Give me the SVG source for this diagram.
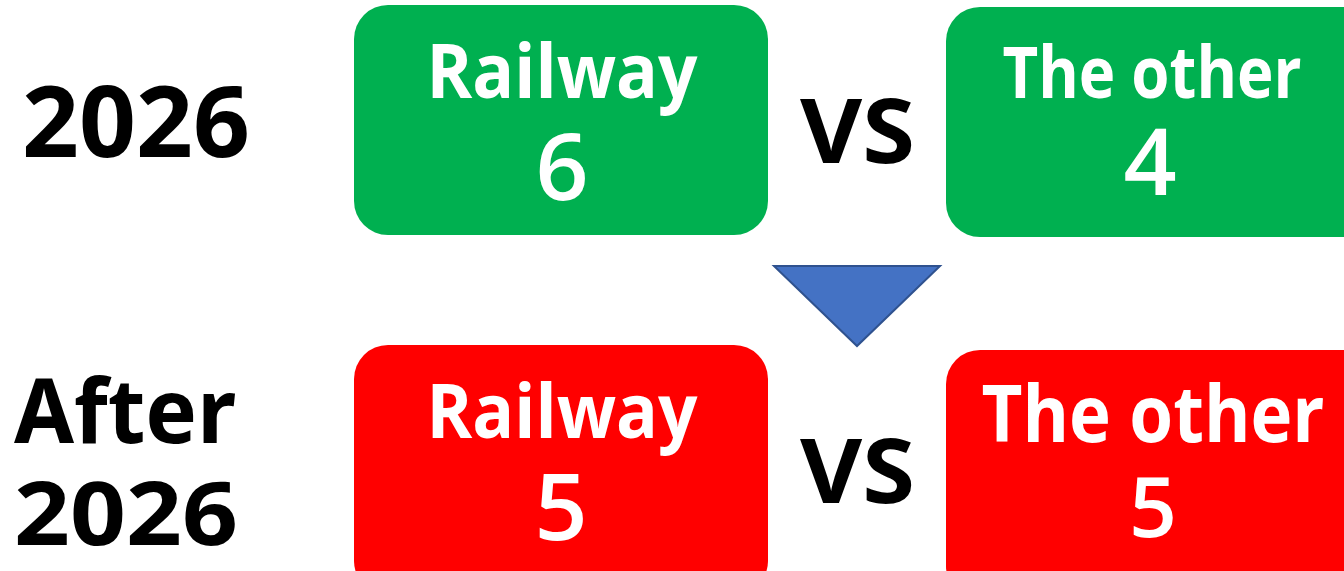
<svg xmlns="http://www.w3.org/2000/svg" width="1344" height="571" viewBox="0 0 1344 571">
  <style>
    .label { font-family: "Noto Sans", "DejaVu Sans", sans-serif; font-weight: 700; fill: #000000; }
    .box-title { font-family: "Open Sans", "Noto Sans", sans-serif; font-weight: 700; fill: #ffffff; text-anchor: middle; }
    .box-num { font-family: "Open Sans", "Noto Sans", sans-serif; font-weight: 600; fill: #ffffff; text-anchor: middle; }
    .green { fill: #00B050; }
    .red { fill: #FF0000; }
  </style>
  <rect width="1344" height="571" fill="#ffffff"/>

  <!-- row labels -->
  <g id="label-2026">
    <text class="label" x="22" y="157" font-size="98" textLength="228" lengthAdjust="spacingAndGlyphs">2026</text>
  </g>
  <g id="label-after-2026">
    <text class="label" x="14" y="443" font-size="90" textLength="222" lengthAdjust="spacingAndGlyphs">After</text>
    <text class="label" x="14" y="545" font-size="88" textLength="224" lengthAdjust="spacingAndGlyphs">2026</text>
  </g>

  <!-- 2026 row -->
  <g id="railway-2026">
    <rect class="green" x="354" y="5" width="414" height="230" rx="34" ry="34"/>
    <text class="box-title" x="562" y="98" font-size="76" textLength="271" lengthAdjust="spacingAndGlyphs">Railway</text>
    <text class="box-num" x="562" y="200" font-size="93">6</text>
  </g>
  <g id="vs-2026">
    <text class="label" x="800" y="163" font-size="90" textLength="115" lengthAdjust="spacingAndGlyphs">VS</text>
  </g>
  <g id="other-2026">
    <rect class="green" x="946" y="7" width="430" height="230" rx="34" ry="34"/>
    <text class="box-title" x="1152" y="98" font-size="71" textLength="299" lengthAdjust="spacingAndGlyphs">The other</text>
    <text class="box-num" x="1150" y="195" font-size="93">4</text>
  </g>

  <!-- transition arrow -->
  <g id="connectors">
    <polygon points="774,266 940,266 857,346" fill="#4472C4" stroke="#2F528F" stroke-width="2" stroke-linejoin="miter"/>
  </g>

  <!-- after 2026 row -->
  <g id="railway-after">
    <rect class="red" x="354" y="345" width="414" height="250" rx="34" ry="34"/>
    <text class="box-title" x="562" y="438" font-size="76" textLength="271" lengthAdjust="spacingAndGlyphs">Railway</text>
    <text class="box-num" x="561" y="540" font-size="93">5</text>
  </g>
  <g id="vs-after">
    <text class="label" x="800" y="503" font-size="90" textLength="115" lengthAdjust="spacingAndGlyphs">VS</text>
  </g>
  <g id="other-after">
    <rect class="red" x="946" y="350" width="430" height="250" rx="34" ry="34"/>
    <text class="box-title" x="1153" y="442" font-size="78" textLength="343" lengthAdjust="spacingAndGlyphs">The other</text>
    <text class="box-num" x="1153" y="537" font-size="84">5</text>
  </g>
</svg>
